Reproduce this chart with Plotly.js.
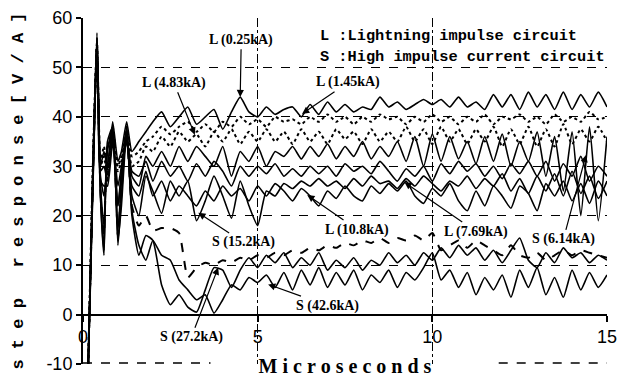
<!DOCTYPE html>
<html>
<head>
<meta charset="utf-8">
<script src="https://cdn.plot.ly/plotly-3.0.1.min.js"></script>
<style>html,body{margin:0;padding:0;background:#fff;}#chart{width:626px;height:378px;}</style>
</head>
<body>
<div id="chart"></div>
<script>
// time axis (microseconds)
const T = [0.15,0.3,0.4,0.5,0.6,0.7,0.85,1.0,1.1,1.25,1.4,1.6,1.8,
  2.0,2.25,2.5,2.75,3.0,3.25,3.5,3.75,4.0,4.25,4.5,4.75,5.0,5.25,5.5,5.75,6.0,6.25,6.5,6.75,
  7.0,7.25,7.5,7.75,8.0,8.25,8.5,8.75,9.0,9.25,9.5,9.75,10.0,10.25,10.5,10.75,11.0,11.25,11.5,11.75,
  12.0,12.25,12.5,12.75,13.0,13.25,13.5,13.75,14.0,14.25,14.5,14.75,15.0];

// step responses [V/A]
const L025 = [-10,35,56,30,33,30,39,31,33,39,33,35,37,
  39,41,38,40,42,38.5,40,41.5,37.5,41,44,41,40,42,40.5,41.5,42,40,42.5,40.5,
  43,41,42.5,41,42,41.5,44,42,43,41.5,42.5,43.5,42.5,43.5,42,44,42,43,41.5,44.5,
  42,44.5,41.5,45,42,44.5,41.5,45,41.5,44.5,42,45,42];
const L145 = [-10,35,55,31,34,29,37,30,32,38,32,33,35,
  36,38,36.5,38,39,37,38.5,37,39,38,40,38.5,39.5,38,40,39,39.5,38.5,40,39,
  40.5,39,40,38.5,40,39,40.5,39.5,40,38.5,40,39,40.5,39,40,38.5,40,39,40.5,38.5,
  40,39.5,40.5,39,40,38.5,40.5,39,40,39,41,39.5,40];
const L483 = [-10,34,54,30,32,28,38,29,31,37,30,31,34,
  33,36,34,37,35,36.5,34,37,35,37.5,34.5,37,35,37.5,35,37,34.5,37.5,35,37,
  34.5,37.5,35.5,37,34.5,37.5,35,37,35,38,35,37.5,34.5,38,35,37.5,34.5,37.5,35,38,
  34,37.5,34.5,38,34,37.5,34,38.5,34.5,37.5,35,38,35];
const S614 = [-10,33,56,28,24,30,37,22,28,36,28,26,32,
  30,33,30,34,31,34,32,30,34,28,33,31,34,30,33,32,34,31.5,34,32,
  34.5,31.5,34,32,35,31.5,34,32,35,31,36,30,36.5,31,36,31.5,35,30.5,36,31,
  36.5,30,35,31,37,28,36,25,37,20,38,19,36];
const L769 = [-10,34,55,29,30,27,36,26,30,36,29,28,31,
  27,31,28,30,27,30.5,28,31,29,26,30,28,30,28.5,30.5,28,29.5,28,30,28.5,
  30,28,30.5,29,30,28.5,31,29,27,29.5,28,30,27,30.5,28.5,31,29,30.5,28,30,
  27.5,30.5,28.5,31,28,31,27,30.5,28,32,27,30,28];
const L108 = [-10,33,54,27,26,26,35,22,29,35,26,24,29,
  24,27,23,26,24,22,25,23,26,24,25.5,23,26,24,26.5,25,23,25.5,24,22,
  25,23.5,26,24,23,26,24.5,26.5,25,27,24,22.5,25.5,24,26.5,23,21,25,22,26,
  24,21.5,26,24.5,21,26.5,24,27,23,26.5,22.5,27,24];
const S152 = [-10,32,57,26,18,33,38,17,27,38,24,20,28,
  25,20.5,27,24,27,19,23,28,24,19.5,27,22,18,25,24,26.5,25.5,27,26,27.5,
  26,27,25.5,27.5,26,28,26.5,27,25.5,27.5,26,28,26.5,25,27,26,28,25.5,27.5,26,
  28.5,25,27.5,24.5,28,25,28.5,24,29,24.5,28,23.5,27];
const DASHED = [-10,32,55,25,16,34,37,16,26,37,22,18,20,
  17,17.5,17.5,16.5,7.5,9.5,10.5,10,11,10.5,11.5,11,12,11.5,12.5,12,13,12.5,13.5,13,
  14,13.5,14.5,14,15,14.5,15.5,14.5,15.5,15,16,15,16.5,13,14,15,13.5,15,14,13,
  12,14,12,11.5,12.5,11,12,13,12,13,12.5,12,11.5];
const S272 = [-10,31,56,24,12,35,38,14,24,38,20,12,16,
  15,6,2,4,1.5,0.5,5,9.5,9,5.5,9,11.5,9.5,12,10.5,12.5,9.5,11.5,10,12.5,
  9,11,9.5,11.5,9,11,10,12.5,10.5,12,10,12.5,11,13.5,11.5,14,12,13.5,11,13,
  10.5,13,15.5,11,9.5,12.5,10.5,13.5,11.5,12.5,10.5,12,11];
const S426 = [-10,30,55,24,13,34,36,15,22,37,21,14,11,
  15,12,11,7,5,3,4,0.3,3,6,5,7.5,6.5,8,5.5,8.5,5,9,6,9.5,
  5.5,8.5,6,9,5,8,6.5,9,5.5,8.5,7,9.5,12.5,7,9,5.5,8.5,4,7.5,5,
  8,3.5,9,5.5,9.5,4,7.5,3.5,9,5,8.5,5.5,8];

const SERIES_NAMES = ['L (0.25kA)','L (1.45kA)','L (4.83kA)','S (6.14kA)','L (7.69kA)','L (10.8kA)','S (15.2kA)','dashed','S (27.2kA)','S (42.6kA)'];
const SERIES_VALUES = [L025,L145,L483,S614,L769,L108,S152,DASHED,S272,S426];
const SERIES_DASH = ['solid','dot','dot','solid','solid','solid','solid','dash','solid','solid'];

const Y_TICK_VALS = [-10,0,10,20,30,40,50,60];
const Y_TICK_TEXT = ['-10','0','10','20','30','40','50','60'];
const X_TICK_VALS = [0,5,10,15];
const X_TICK_TEXT = ['0','5','10','15'];

// label: text, text position (t,v), arrow tip (t,v)
const LABELS = [
  ['L (0.25kA)', 4.53, 55.6, 4.5, 44],
  ['L (4.83kA)', 2.6, 46.9, 3.2, 36.4],
  ['L (1.45kA)', 7.6, 47.0, 6.27, 40.6],
  ['S (15.2kA)', 4.6, 14.6, 3.3, 20.6],
  ['L (10.8kA)', 7.85, 17.2, 6.42, 24.2],
  ['L (7.69kA)', 11.25, 16.8, 9.2, 26.8],
  ['S (6.14kA)', 13.75, 15.2, 14.4, 32.3],
  ['S (27.2kA)', 3.1, -4.6, 3.87, 9.5],
  ['S (42.6kA)', 7.0, 1.8, 5.3, 6.1]
];
const KEY_LINES = ['L :Lightning impulse circuit', 'S :High impulse current circuit'];

const sp = s => s.split('').map(c => c === ' ' ? '\u00a0' : c).join('\u00a0');

const traces = SERIES_VALUES.map((vals, i) => ({
  type: 'scatter', mode: 'lines', x: T, y: vals, name: SERIES_NAMES[i],
  line: {color: '#000', width: SERIES_DASH[i] === 'solid' ? 1.6 : 2, dash: SERIES_DASH[i], shape: 'spline', smoothing: 0.5},
  showlegend: false, hoverinfo: 'skip'
}));

const annotations = LABELS.map(l => ({
  text: l[0], x: l[3], y: l[4], ax: l[1], ay: l[2], axref: 'x', ayref: 'y', xref: 'x', yref: 'y',
  showarrow: true, arrowhead: 2, arrowsize: 1.2, arrowwidth: 1.2, arrowcolor: '#000', standoff: 0,
  font: {family: 'Liberation Serif', size: 14, color: '#000', weight: 'bold'}
}));
KEY_LINES.forEach((t, i) => annotations.push({
  text: t, x: 6.73, y: i === 0 ? 56.4 : 52.1, xref: 'x', yref: 'y', xanchor: 'left', yanchor: 'middle',
  showarrow: false, font: {family: 'Liberation Mono', size: 15.3, color: '#000', weight: 'bold'}
}));

const layout = {
  width: 626, height: 378,
  margin: {l: 83, r: 19, t: 18, b: 14},
  paper_bgcolor: '#fff', plot_bgcolor: '#fff',
  showlegend: false,
  xaxis: {
    range: [0, 15], tickvals: X_TICK_VALS, ticktext: X_TICK_TEXT,
    anchor: 'free', position: 10 / 70,
    showline: true, linewidth: 2, linecolor: '#000',
    ticks: 'outside', ticklen: 6, tickwidth: 2, tickcolor: '#000',
    showgrid: true, griddash: 'dashdot', gridcolor: '#000', gridwidth: 1.2,
    zeroline: false,
    tickfont: {family: 'Liberation Sans', size: 18, color: '#000'},
    title: {text: sp('Microseconds'), font: {family: 'Liberation Serif', size: 20, color: '#000', weight: 'bold'}, standoff: 12}
  },
  yaxis: {
    range: [-10, 60], tickvals: Y_TICK_VALS, ticktext: Y_TICK_TEXT,
    showline: true, linewidth: 2, linecolor: '#000',
    ticks: 'outside', ticklen: 5, tickwidth: 2, tickcolor: '#000',
    showgrid: true, griddash: 'dash', gridcolor: '#000', gridwidth: 1.2,
    zeroline: false,
    tickfont: {family: 'Liberation Sans', size: 18, color: '#000'},
    title: {text: sp('step response[V/A]'), font: {family: 'Liberation Mono', size: 17, color: '#000', weight: 'bold'}, standoff: 18}
  },
  shapes: [
    {type: 'line', xref: 'x', yref: 'y', x0: 0, x1: 3.65, y0: -9.8, y1: -9.8, line: {color: '#000', width: 1.5, dash: 'dash'}},
    {type: 'line', xref: 'x', yref: 'y', x0: 11.9, x1: 15, y0: -9.8, y1: -9.8, line: {color: '#000', width: 1.5, dash: 'dash'}}
  ],
  annotations: annotations
};

Plotly.newPlot('chart', traces, layout, {staticPlot: true, displayModeBar: false});
</script>
</body>
</html>
